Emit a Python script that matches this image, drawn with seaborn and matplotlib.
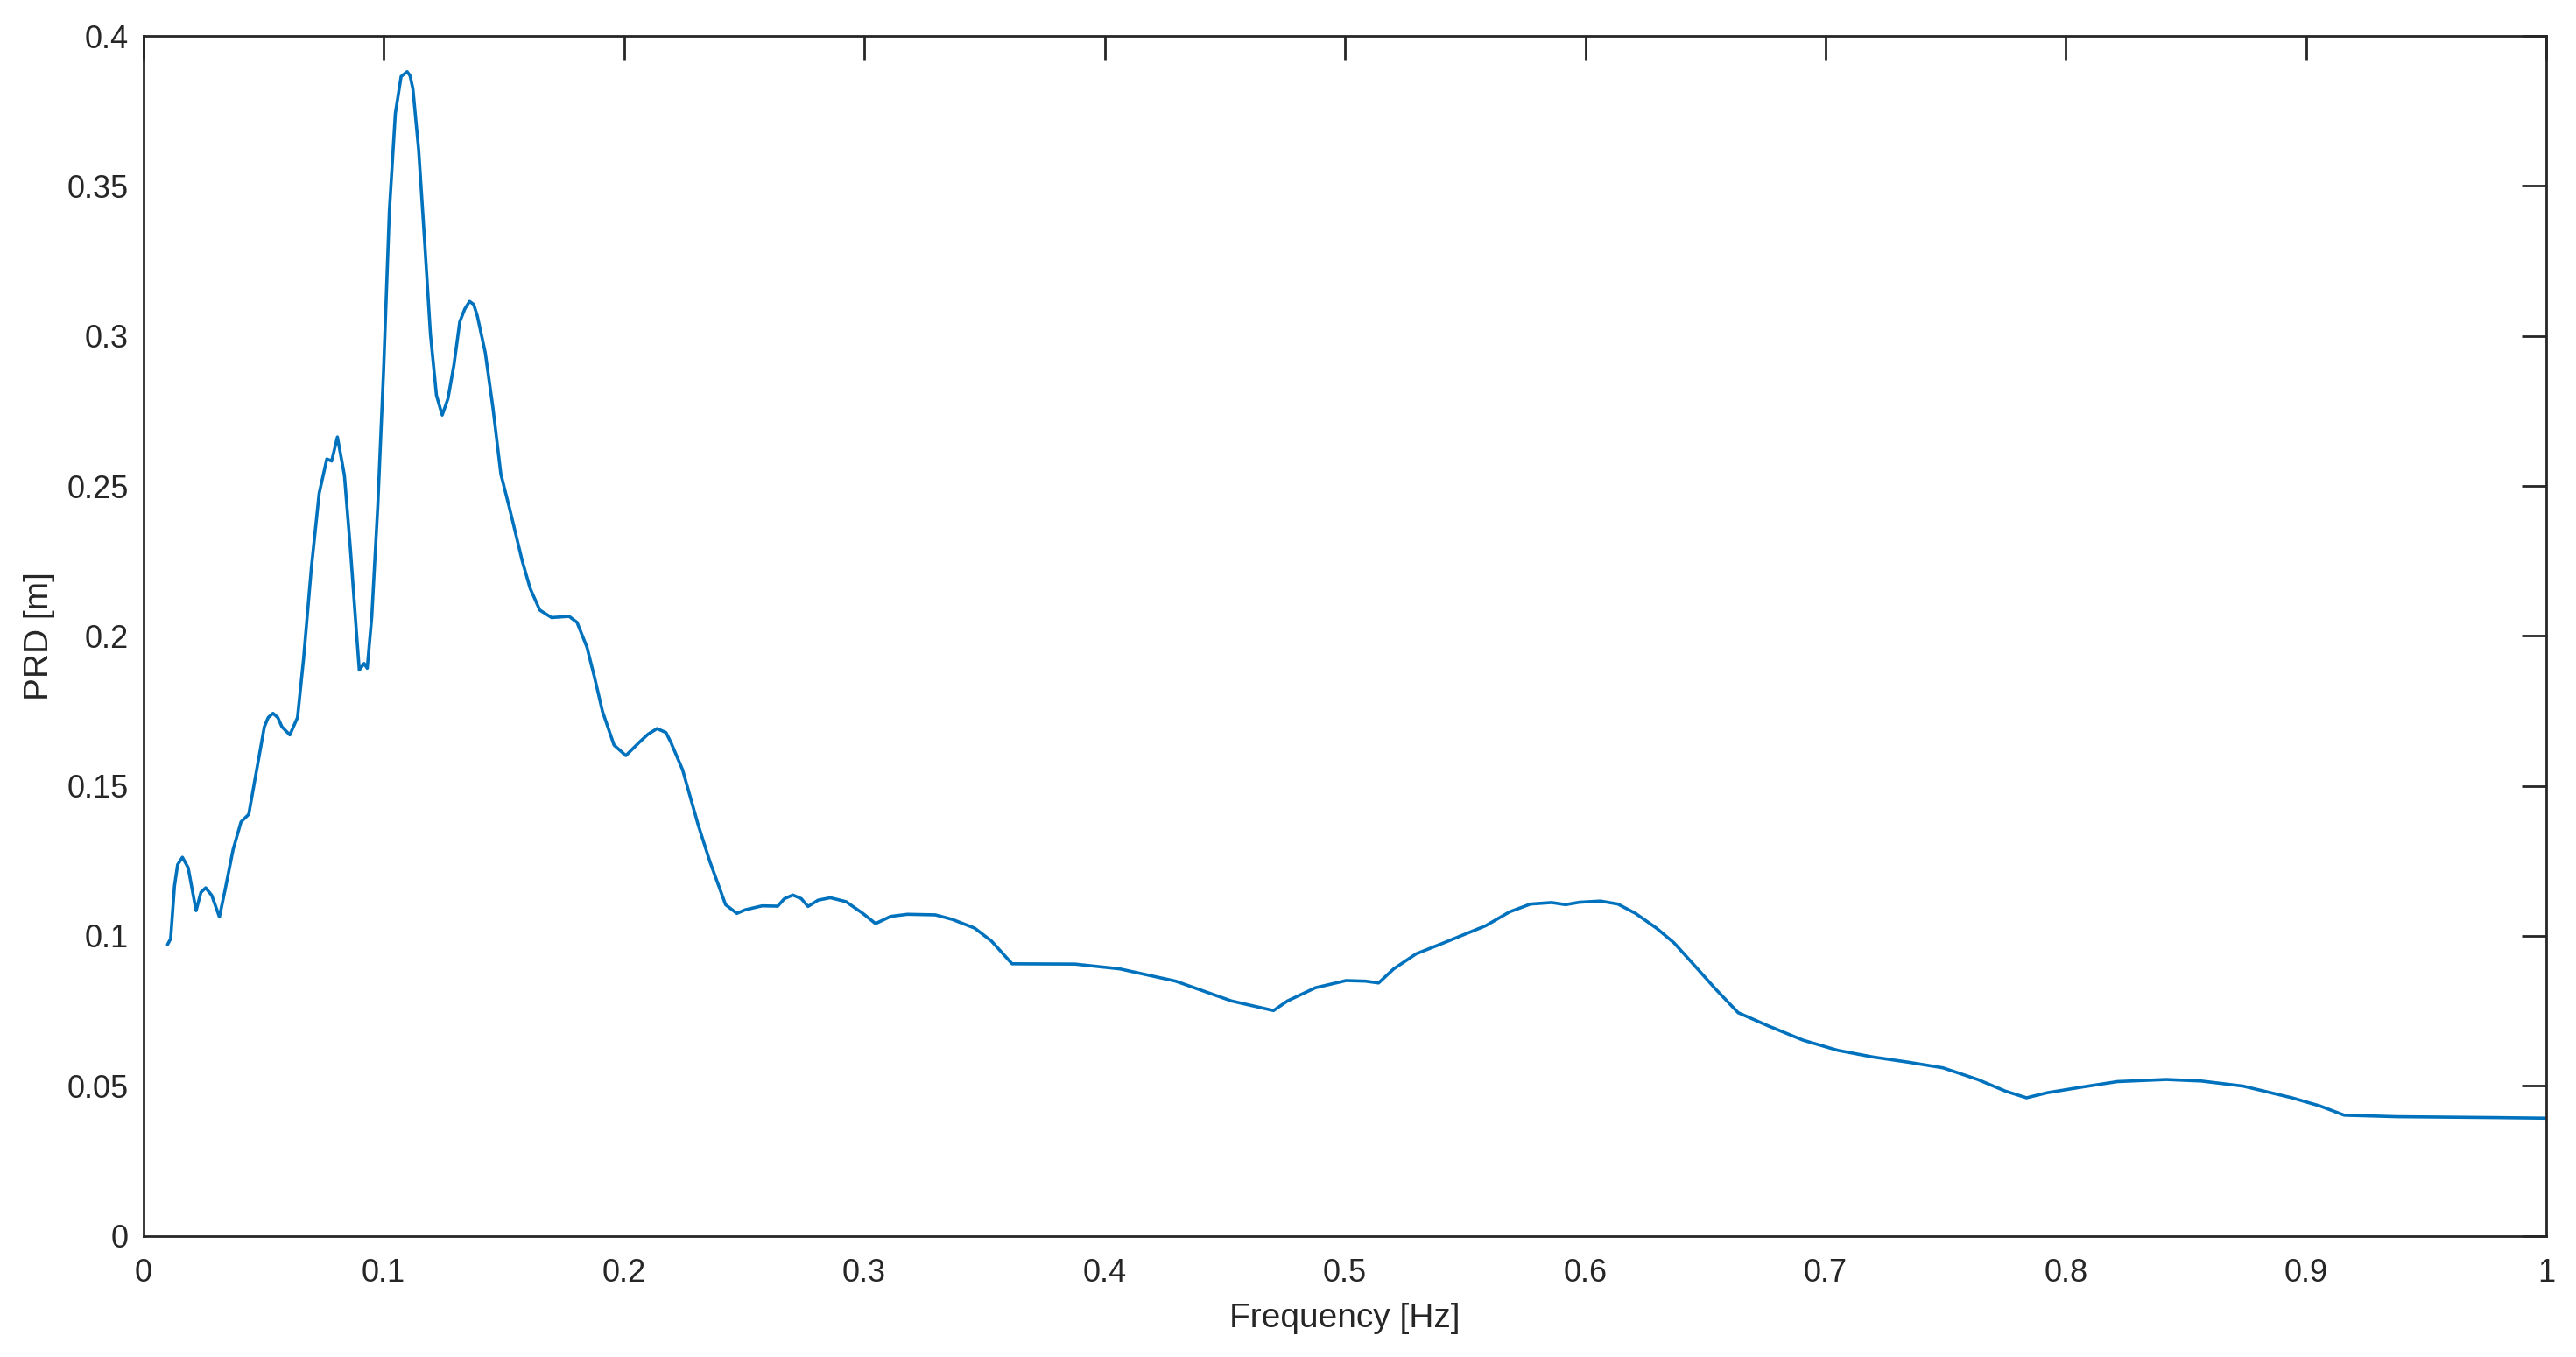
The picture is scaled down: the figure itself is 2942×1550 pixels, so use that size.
import matplotlib
matplotlib.use("Agg")
import matplotlib.pyplot as plt
import seaborn as sns
import pandas as pd

# values
freq = [0.0101, 0.0114, 0.013, 0.0143, 0.0163, 0.0187, 0.022, 0.024, 0.026, 0.0285,
        0.0317, 0.0341, 0.0374, 0.0407, 0.0439, 0.0472, 0.0504, 0.052, 0.054, 0.056,
        0.0577, 0.061,
        0.0642, 0.0667, 0.07, 0.0732, 0.0764, 0.0784, 0.0808, 0.0837, 0.0862, 0.0886,
        0.0899, 0.0919, 0.0932, 0.0951, 0.0976, 0.1, 0.1024, 0.1049, 0.1073, 0.1098,
        0.111, 0.1122, 0.1146, 0.1171, 0.1195, 0.122, 0.1244, 0.1268, 0.1293, 0.1317,
        0.1338, 0.1358, 0.1375,
        0.139, 0.1423, 0.1455, 0.1488, 0.1528, 0.1577, 0.161, 0.165, 0.1699, 0.1772,
        0.1805, 0.1846, 0.1878, 0.1911, 0.1959, 0.2008, 0.2065, 0.21, 0.2138, 0.2175,
        0.2195, 0.2244,
        0.2309, 0.2358, 0.2423, 0.247, 0.2505, 0.2575, 0.264, 0.2668, 0.2703, 0.2738,
        0.2766, 0.2808, 0.2859, 0.2924, 0.2994, 0.3047, 0.311, 0.318, 0.3296, 0.3366,
        0.3459, 0.3529, 0.3615, 0.3877, 0.4063, 0.4296, 0.4528, 0.4703, 0.4761, 0.4877,
        0.5005, 0.5086, 0.514, 0.5203, 0.5296, 0.5412, 0.5586, 0.5685, 0.5772, 0.586,
        0.5918, 0.5976, 0.6063, 0.6136, 0.6209, 0.6296, 0.6369, 0.6456, 0.6543, 0.6636,
        0.6761, 0.6907, 0.7052, 0.7197, 0.7342, 0.7488, 0.7633, 0.7749, 0.7836, 0.7923,
        0.8068, 0.8214, 0.8417, 0.8562, 0.8737, 0.894, 0.9056, 0.9158, 0.9376, 0.9783,
        1.0]
prd = [0.0971, 0.099, 0.1166, 0.1237, 0.1262, 0.1227, 0.1084, 0.1145, 0.116, 0.1135,
       0.1063, 0.1155, 0.1288, 0.138, 0.1405, 0.1554, 0.1697, 0.1728, 0.1742, 0.1728,
       0.1697, 0.167,
       0.1728, 0.1922, 0.223, 0.2475, 0.259, 0.2583, 0.2663, 0.2536, 0.229, 0.2025,
       0.1886, 0.1908, 0.1892, 0.2065, 0.2434, 0.2883, 0.3415, 0.3742, 0.3865, 0.3881,
       0.3868, 0.3824, 0.362, 0.3313, 0.3006, 0.2802, 0.2736, 0.2791, 0.2904, 0.3047,
       0.309, 0.3115, 0.3105,
       0.3067, 0.2945, 0.2761, 0.254, 0.2413, 0.225, 0.2158, 0.2086, 0.2061, 0.2065,
       0.2045, 0.1963, 0.1861, 0.1748, 0.1636, 0.1601, 0.1646, 0.1672, 0.1691, 0.1678,
       0.1646, 0.1554,
       0.137, 0.1247, 0.1104, 0.1075, 0.1087, 0.11, 0.1099, 0.1124, 0.1136, 0.1124,
       0.1098, 0.1119, 0.1127, 0.1114, 0.1075, 0.1041, 0.1065, 0.1072, 0.107, 0.1055,
       0.1026, 0.0983, 0.0907, 0.0906, 0.089, 0.0849, 0.0783, 0.0751, 0.0783, 0.0827,
       0.0851, 0.0849, 0.0843, 0.089, 0.094, 0.0977, 0.1034, 0.108, 0.1106, 0.1111,
       0.1104, 0.1112, 0.1116, 0.1106, 0.1075, 0.1026, 0.0977, 0.09, 0.0822, 0.0744,
       0.07, 0.0652, 0.0618, 0.0596, 0.0579, 0.056, 0.0521, 0.0482, 0.046, 0.0477,
       0.0496, 0.0514, 0.0521, 0.0516, 0.0499, 0.046, 0.0433, 0.0402, 0.0397, 0.0394,
       0.0392]

x_ticks = [0, 0.1, 0.2, 0.3, 0.4, 0.5, 0.6, 0.7, 0.8, 0.9, 1]
x_labels = ["0", "0.1", "0.2", "0.3", "0.4", "0.5", "0.6", "0.7", "0.8", "0.9", "1"]
y_ticks = [0, 0.05, 0.1, 0.15, 0.2, 0.25, 0.3, 0.35, 0.4]
y_labels = ["0", "0.05", "0.1", "0.15", "0.2", "0.25", "0.3", "0.35", "0.4"]

sns.set_style("white")
plt.rcParams['font.family'] = ['Liberation Sans', 'DejaVu Sans']

df = pd.DataFrame({"freq": freq, "prd": prd})

fig, ax = plt.subplots(figsize=(14.71, 7.75), dpi=200)
fig.subplots_adjust(left=0.0556, right=0.9886, bottom=0.0893, top=0.9735)

sns.lineplot(data=df, x="freq", y="prd", color="#0072BD", linewidth=1.3,
             estimator=None, sort=False, ax=ax)

ax.set_xlim(0, 1)
ax.set_ylim(0, 0.4)
ax.set_xticks(x_ticks)
ax.set_xticklabels(x_labels)
ax.set_yticks(y_ticks)
ax.set_yticklabels(y_labels)

edge = "#262626"
for s in ax.spines.values():
    s.set_visible(True)
    s.set_color(edge)
    s.set_linewidth(1.0)
ax.tick_params(axis='both', direction='in', length=10, width=1.0, color=edge,
               labelcolor=edge, labelsize=13, top=True, right=True)
ax.tick_params(axis='x', pad=9)
ax.tick_params(axis='y', pad=6)

ax.set_xlabel("Frequency [Hz]", fontsize=14, color=edge, labelpad=6)
ax.set_ylabel("PRD [m]", fontsize=14, color=edge, labelpad=5)

fig.savefig("out.png", dpi=200)
